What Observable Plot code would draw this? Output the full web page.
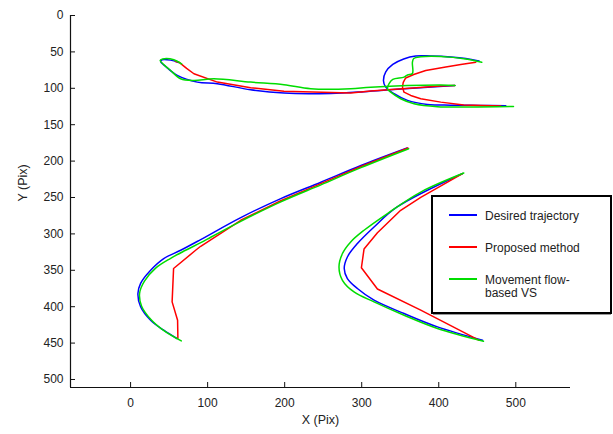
<!DOCTYPE html>
<html>
<head>
<meta charset="utf-8">
<script src="https://cdn.jsdelivr.net/npm/d3@7"></script>
<script src="https://cdn.jsdelivr.net/npm/@observablehq/plot@0.6"></script>
<style>
  html, body { margin: 0; padding: 0; background: #fff; }
  #chart { width: 613px; height: 434px; }
</style>
</head>
<body>
<div id="chart"></div>
<script>
// ---- axis setup ----
const xDomain = [-78, 571];
const yDomain = [0, 511];
const xTicks = [0, 100, 200, 300, 400, 500];
const yTicks = [0, 50, 100, 150, 200, 250, 300, 350, 400, 450, 500];
const xLabel = "X (Pix)";
const yLabel = "Y (Pix)";

// ---- series names / colors ----
const seriesNames = ["Desired trajectory", "Proposed method", "Movement flow-based VS"];
const seriesColors = ["#0000ff", "#ff0000", "#00dd00"];
const legendLines = [["Desired trajectory"], ["Proposed method"], ["Movement flow-", "based VS"]];

// ---- Desired trajectory (blue) ----
const desiredTopA = [[62.3,64.5],[51.9,61.3],[40.9,60.8],[39,63.1],[45.5,70],[60.6,82.3],[86.6,91.5],[112.6,93.7],[155.8,102],[199.1,106.6],[259.7,107],[303,104.6],[350.6,100.9],[420.8,96.1]];
const desiredTopB = [[452.3,62.4],[435.1,59],[415.6,56.9],[389.6,55.6],[370.1,55.6],[354.5,59.7],[340.3,67.2],[331.2,77.5],[328.2,89.2],[331.2,98.4],[342,107.4],[359.4,116.6],[385.3,122.1],[415.6,123.2],[454.5,123.5],[487,123.9]];
const desiredLeftV = [[359,182],[299,206],[247,229],[195,251.5],[143,277.6],[91,307.8],[65,322.5],[43,334],[26,350],[13,368],[9.5,382],[13,400],[26,418.6],[43,432.3],[60,443.7]];
const desiredRightV = [[431,217],[346,263],[316,290.5],[294.4,313.3],[281.4,331.7],[277.3,347.6],[281.4,361.3],[294.4,375],[316,391],[355,409.4],[398.3,427.7],[456.8,446]];

// ---- Proposed method (red) ----
const proposedTopA = [[58.4,63.1],[62.7,64.1],[72.7,72.7],[82.2,80],[112.6,91.5],[155.8,99.2],[199.1,103.9],[285.7,106.6],[311.7,103.6],[402.6,96.7],[420.8,96.1]];
const proposedTopB = [[448.1,64.1],[428.6,67.2],[409.1,70.7],[383.1,75.5],[367.5,81],[357.1,85.8],[353.9,91.9],[352.9,98.4],[354.9,105.3],[363.6,109.8],[376.6,114.3],[402.6,119],[432.5,122.8],[480.5,124.2]];
const proposedLeftV = [[360,182],[299,207.5],[247,231],[195,254.5],[143,281.3],[91,317],[84.4,322.5],[55.8,347.6],[53.9,393.4],[61,418.5],[61.4,443.2]];
const proposedRightV = [[430.8,217.2],[376.6,249.8],[350.6,267.6],[320.4,298.5],[303,320.8],[299.6,346.5],[320.4,375.7],[376.6,404.8],[452,446]];

// ---- Movement flow-based VS (green) ----
const flowTopA = [[66.2,66.6],[56.2,60.8],[41.6,59.7],[38.3,61.8],[42.9,67.2],[51.9,75.5],[64.9,86.9],[82.2,89.2],[108.2,86.9],[155.8,91.5],[199.1,95.1],[233.8,100.6],[285.7,100.6],[311.7,98.4],[402.6,95.4],[421.2,96.1]];
const flowTopB = [[455.8,64.2],[435.1,59.7],[402.6,56.3],[376.6,56.7],[367.5,59],[365.8,64.5],[365.8,79.6],[359.4,81.7],[354.9,84.7],[340.3,87.8],[335.5,93.7],[333.4,100.6],[337.7,105.3],[350.6,114.3],[367.9,121.2],[398.3,125.2],[441.6,125.6],[497,124.9]];
const flowLeftV = [[361,183],[299,209],[247,232.6],[195,256],[143,282.7],[104,304.6],[95,310],[71.4,322.5],[52,333.5],[32.5,347],[18,365],[11.7,381.5],[14.3,399.3],[27.3,418.6],[44.2,433.6],[65.8,447]];
const flowRightV = [[432.5,216.4],[376.6,242.5],[333.4,272],[303,295],[285.7,311],[275,327],[270.5,345.4],[275,363.7],[290,379.7],[316,393.4],[355,411.7],[398.3,429.9],[458,447.4]];

// ---- build table ----
const strokesBySeries = [
  [desiredTopA, desiredTopB, desiredLeftV, desiredRightV],
  [proposedTopA, proposedTopB, proposedLeftV, proposedRightV],
  [flowTopA, flowTopB, flowLeftV, flowRightV]
];
const rows = [];
strokesBySeries.forEach((strokes, si) => {
  strokes.forEach((pts, k) => {
    pts.forEach(([x, y]) => rows.push({series: seriesNames[si], stroke: si + "-" + k, x, y}));
  });
});
const curves = ["catmull-rom", "linear", "catmull-rom"];

const font = "'Liberation Sans', Arial, Helvetica, sans-serif";

const lineMarks = seriesNames.map((name, si) =>
  Plot.line(rows.filter(r => r.series === name), {
    x: "x", y: "y", z: "stroke",
    stroke: seriesColors[si], strokeWidth: 1.5, curve: curves[si]
  })
);

const svg = Plot.plot({
  width: 613,
  height: 434,
  marginLeft: 70,
  marginRight: 43,
  marginTop: 15,
  marginBottom: 47,
  style: {fontFamily: font, fontSize: "12px", color: "#222", background: "#fff", overflow: "visible"},
  x: {domain: xDomain},
  y: {domain: yDomain, reverse: true},
  marks: [
    ...lineMarks,
    Plot.ruleX([xDomain[0]], {stroke: "#111", strokeWidth: 1.2}),
    Plot.ruleY([yDomain[1]], {stroke: "#111", strokeWidth: 1.2}),
    Plot.axisX(xTicks, {anchor: "bottom", tickSize: -5, tickPadding: 16, label: null, stroke: "#111", fill: "#222"}),
    Plot.axisY(yTicks, {anchor: "left", tickSize: -5, tickPadding: 12, label: null, stroke: "#111", fill: "#222"}),
    Plot.text([xLabel], {text: d => d, frameAnchor: "bottom", dy: 36, fill: "#222", fontSize: 12.5}),
    Plot.text([yLabel], {text: d => d, frameAnchor: "left", dx: -48, rotate: -90, fill: "#222", fontSize: 12.5})
  ]
});

// ---- legend ----
const g = d3.select(svg).append("g")
  .attr("font-family", font).attr("font-size", 12).attr("text-anchor", "start");
g.append("rect").attr("x", 432).attr("y", 196).attr("width", 179).attr("height", 117)
  .attr("fill", "#fff").attr("stroke", "#000").attr("stroke-width", 2);
g.append("path").attr("d", "M433,314.5H611").attr("stroke", "#999").attr("stroke-width", 1).attr("fill", "none");
const rowY = [215, 247, 279];
seriesNames.forEach((name, i) => {
  g.append("line").attr("x1", 449).attr("x2", 477).attr("y1", rowY[i]).attr("y2", rowY[i])
    .attr("stroke", seriesColors[i]).attr("stroke-width", 2);
  const t = g.append("text").attr("x", 485).attr("y", rowY[i] + 4.5)
    .attr("fill", "#222").attr("text-anchor", "start");
  legendLines[i].forEach((ln, j) => {
    t.append("tspan").attr("x", 485).attr("dy", j === 0 ? 0 : 13.4).text(ln);
  });
});

document.getElementById("chart").appendChild(svg);
</script>
</body>
</html>
